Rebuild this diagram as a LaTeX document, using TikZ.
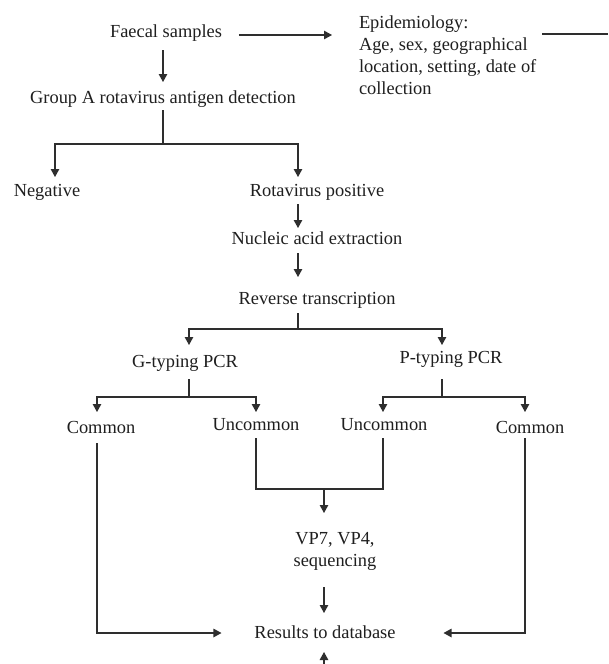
\documentclass[tikz,border=0pt]{standalone}
\usepackage{fontspec}
\setmainfont{Liberation Serif}
\usetikzlibrary{arrows.meta,calc}
\begin{document}
\begin{tikzpicture}[x=1pt,y=-1pt,
  txt/.style={inner sep=0pt,outer sep=0pt,font=\fontsize{18.4}{22}\selectfont,text=black!88},
  lbl/.style={txt,anchor=base,text height=12.6pt,text depth=4pt},
  ln/.style={draw=black!82,line width=1.1pt},
  arr/.style={ln,-{Triangle[length=8pt,width=8.5pt]}}]
\fill[white] (0,0) rectangle (608,664);
\useasboundingbox (0,0) rectangle (608,664);
% nodes
\node[lbl] (fs) at (166,37) {Faecal samples};
\node[txt,anchor=north west,align=left] (epi) at (359,15.4) {Epidemiology:\\Age, sex, geographical\\location, setting, date of\\collection};
\node[lbl] (ga) at (163,103) {Group A rotavirus antigen detection};
\node[lbl] (neg) at (47,196) {Negative};
\node[lbl] (rp) at (317,196) {Rotavirus positive};
\node[lbl] (na) at (317,244) {Nucleic acid extraction};
\node[lbl] (rt) at (317,304) {Reverse transcription};
\node[lbl] (gt) at (185,367) {G-typing PCR};
\node[lbl] (pt) at (451,363) {P-typing PCR};
\node[lbl] (cl) at (101,433) {Common};
\node[lbl] (ul) at (256,430) {Uncommon};
\node[lbl] (ur) at (384,430) {Uncommon};
\node[lbl] (cr) at (530,433) {Common};
\node[txt,anchor=north,align=center] (vp) at (335,532.4) {VP7, VP4,\\sequencing};
\node[lbl] (db) at (325,638) {Results to database};
% junctions
\coordinate (epiR) at (608,34);
\coordinate (j1) at (163,144);
\coordinate (j1l) at (55,144);
\coordinate (j1r) at (298,144);
\coordinate (j2) at (298,329);
\coordinate (j2l) at (189,329);
\coordinate (j2r) at (442,329);
\coordinate (j3) at (189,397);
\coordinate (j3l) at (97,397);
\coordinate (j3r) at (256,397);
\coordinate (j4) at (442,397);
\coordinate (j4l) at (383,397);
\coordinate (j4r) at (525,397);
\coordinate (m) at (324,489);
\coordinate (dbl) at (97,633);
\coordinate (dbr) at (525,633);
\coordinate (bot) at (324,664);
% connectors
\draw[arr,shorten <=9pt,shorten >=8.4pt] (fs.south -| ga.north) -- (ga.north);
\draw[arr,shorten <=17pt,shorten >=27pt] ([yshift=2pt]fs.base east) -- ([yshift=2pt]fs.base east -| epi.west);
\draw[ln,shorten <=6pt] (epi.east |- epiR) -- (epiR);
\draw[ln,shorten <=3pt] (ga.south) -- (j1);
\draw[arr,shorten >=6.4pt] (j1) -- (j1l) -- (j1l |- neg.north);
\draw[arr,shorten >=6.4pt] (j1) -- (j1r) -- (j1r |- rp.north);
\draw[arr,shorten <=4pt,shorten >=3.4pt] (rp.south -| j1r) -- (na.north -| j1r);
\draw[arr,shorten <=5pt,shorten >=14.4pt] (na.south -| j1r) -- (rt.north -| j1r);
\draw[ln,shorten <=5pt] (rt.south -| j2) -- (j2);
\draw[arr,shorten >=9.4pt] (j2) -- (j2l) -- (j2l |- gt.north);
\draw[arr,shorten >=5.4pt] (j2) -- (j2r) -- (j2r |- pt.north);
\draw[ln,shorten <=8pt] (gt.south -| j3) -- (j3);
\draw[arr,shorten >=8.4pt] (j3) -- (j3l) -- (j3l |- cl.north);
\draw[arr,shorten >=5.4pt] (j3) -- (j3r) -- (j3r |- ul.north);
\draw[ln,shorten <=12pt] (pt.south -| j4) -- (j4);
\draw[arr,shorten >=5.4pt] (j4) -- (j4l) -- (j4l |- ur.north);
\draw[arr,shorten >=8.4pt] (j4) -- (j4r) -- (j4r |- cr.north);
\draw[ln,shorten <=4pt,shorten >=4pt] (ul.south -| j3r) -- (j3r |- m) -- (j4l |- m) -- (ur.south -| j4l);
\draw[arr,shorten >=19.4pt] (m) -- (vp.north -| m);
\draw[arr,shorten <=17pt,shorten >=12.4pt] (vp.south -| m) -- (db.north -| m);
\draw[arr,shorten <=6pt,shorten >=33pt] (cl.south -| dbl) -- (dbl) -- (dbl -| db.west);
\draw[arr,shorten <=1pt,shorten >=48pt] (cr.south -| dbr) -- (dbr) -- (dbr -| db.east);
\draw[arr,shorten >=10pt] (bot) -- (db.south -| bot);
\end{tikzpicture}
\end{document}
